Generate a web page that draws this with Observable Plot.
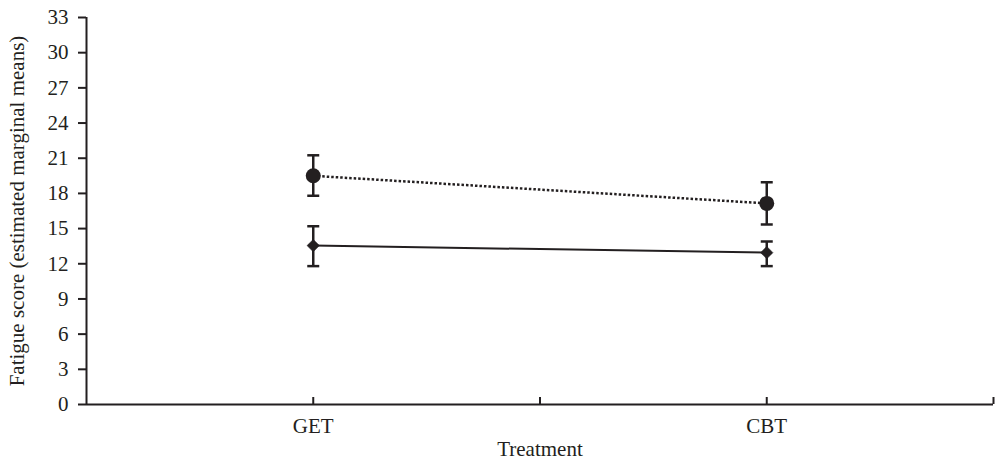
<!DOCTYPE html>
<html><head><meta charset="utf-8">
<script src="https://cdn.jsdelivr.net/npm/d3@7"></script>
<script src="https://cdn.jsdelivr.net/npm/@observablehq/plot@0.6"></script>
<style>body{margin:0;background:#fff} svg{display:block}</style>
</head><body><div id="chart"></div>
<script>
const treatments = ["GET", "CBT"];
const treatmentPos = [1, 3];
const xTicks = [1, 2, 3, 4];
const yTicks = [0, 3, 6, 9, 12, 15, 18, 21, 24, 27, 30, 33];
const circleMeans = [19.5, 17.15];
const circleLow = [17.8, 15.35];
const circleHigh = [21.25, 18.95];
const diamondMeans = [13.55, 12.95];
const diamondLow = [11.8, 11.8];
const diamondHigh = [15.2, 13.9];

const ink = "#231f20";
const W = 995, H = 461, mT = 17, mB = 57, mL = 86, mR = 2;
const innerH = H - mT - mB;

const mk = (means, lo, hi) => treatments.map((t, i) => ({t, x: treatmentPos[i], y: means[i], lo: lo[i], hi: hi[i]}));
const circles = mk(circleMeans, circleLow, circleHigh);
const diamonds = mk(diamondMeans, diamondLow, diamondHigh);
const both = circles.concat(diamonds);

const capSymbol = {draw(ctx, size) { const w = Math.sqrt(size / Math.PI); ctx.moveTo(-w, 0); ctx.lineTo(w, 0); }};

const chart = Plot.plot({
  width: W, height: H,
  marginTop: mT, marginBottom: mB, marginLeft: mL, marginRight: mR,
  style: {fontFamily: "'Liberation Serif', 'Times New Roman', serif", fontSize: "21px", color: ink, background: "white"},
  x: {domain: [0, 4]},
  y: {domain: [0, 33]},
  marks: [
    Plot.axisY({ticks: yTicks, tickSize: 8, tickPadding: 10, strokeWidth: 2, stroke: ink,
      label: "Fatigue score (estimated marginal means)", labelAnchor: "center", labelOffset: 77, labelArrow: "none"}),
    Plot.axisX(treatmentPos, {tickFormat: d => treatments[treatmentPos.indexOf(d)], tickSize: 0, tickPadding: 14,
      label: "Treatment", labelAnchor: "center", labelOffset: 51, labelArrow: "none"}),
    Plot.ruleX([0], {y1: 0, y2: 33, stroke: ink, strokeWidth: 2}),
    Plot.ruleY([0], {stroke: ink, strokeWidth: 2}),
    Plot.ruleX(xTicks, {stroke: ink, strokeWidth: 2, insetTop: innerH - 7}),
    Plot.line(circles, {x: "x", y: "y", stroke: ink, strokeWidth: 2.5, strokeDasharray: "2.5,2", strokeLinecap: "butt"}),
    Plot.line(diamonds, {x: "x", y: "y", stroke: ink, strokeWidth: 2}),
    Plot.ruleX(both, {x: "x", y1: "lo", y2: "hi", stroke: ink, strokeWidth: 2.5}),
    Plot.dot(both, {x: "x", y: "lo", symbol: capSymbol, r: 6, stroke: ink, strokeWidth: 2.5}),
    Plot.dot(both, {x: "x", y: "hi", symbol: capSymbol, r: 6, stroke: ink, strokeWidth: 2.5}),
    Plot.dot(circles, {x: "x", y: "y", r: 7.5, fill: ink}),
    Plot.dot(diamonds, {x: "x", y: "y", symbol: "diamond2", r: 5.6, fill: ink, stroke: ink, strokeWidth: 0.5})
  ]
});
document.getElementById("chart").append(chart);
</script>
</body></html>
